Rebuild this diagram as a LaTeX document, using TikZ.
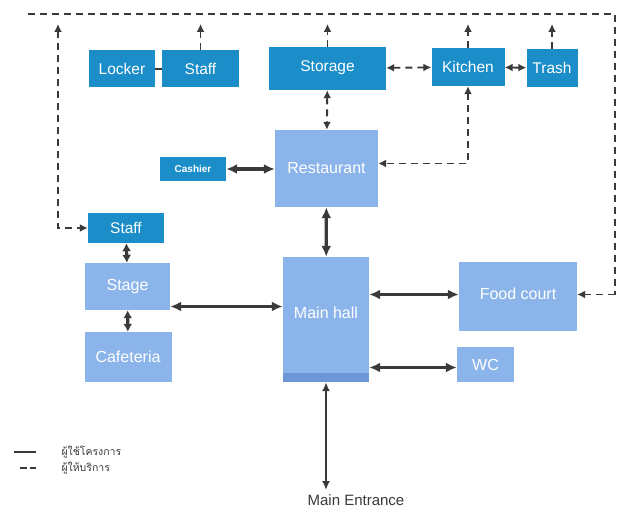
\documentclass[tikz,border=0pt]{standalone}
\usepackage{fontspec}
\setmainfont{Liberation Sans}
\newfontfamily\thaifont[Script=Thai]{Loma}
\usetikzlibrary{arrows.meta,positioning,calc}
\definecolor{BoxD}  {RGB}{27, 141, 201}
\definecolor{BoxL}  {RGB}{139,180, 234}
\definecolor{BoxLD} {RGB}{108,152, 218}
\definecolor{LineG} {RGB}{58,  58,  58}

\begin{document}
\begin{tikzpicture}[x=1pt,y=-1pt,
    dbox/.style={fill=BoxD,text=white,inner sep=0pt,font=\fontsize{15.5}{16}\selectfont},
    lbox/.style={fill=BoxL,text=white,inner sep=0pt,font=\fontsize{16}{16}\selectfont},
    usr/.style={LineG,line width=3.2pt,{Latex[length=11pt,width=10pt]}-{Latex[length=11pt,width=10pt]}},
    usrs/.style={LineG,line width=3.2pt,{Latex[length=8pt,width=9pt]}-{Latex[length=8pt,width=9pt]}},
    pv/.style={LineG,line width=1.9pt,dash pattern=on 7pt off 5pt},
    pvb/.style={pv,{Latex[length=8pt,width=8pt]}-{Latex[length=8pt,width=8pt]}},
    pvs/.style={pv,-{Latex[length=8pt,width=8pt]}}]
  \useasboundingbox[fill=white] (0,0) rectangle (628,513);

  \node[dbox,minimum width=66pt,minimum height=37pt] (locker) at (122,69) {Locker};
  \node[dbox,minimum width=77pt,minimum height=37pt] (staffA) at (200.5,69) {Staff};
  \node[dbox,minimum width=117pt,minimum height=43pt,text depth=4pt] (storage) at (327.5,68.5) {Storage};
  \node[dbox,minimum width=73pt,minimum height=38pt] (kitchen) at (468,67) {Kitchen};
  \node[dbox,minimum width=51pt,minimum height=38pt] (trash) at (552,68) {Trash};
  \node[dbox,minimum width=66pt,minimum height=24pt,font=\fontsize{10}{10}\selectfont\bfseries] (cashier) at (193,169) {Cashier};
  \node[dbox,minimum width=76pt,minimum height=30pt] (staffB) at (126,228) {Staff};

  \node[lbox,minimum width=103pt,minimum height=77pt] (restaurant) at (326.5,168.5) {Restaurant};
  \node[lbox,minimum width=86pt,minimum height=125pt] (mainhall) at (326,319.5) {};
  \fill[BoxLD] (mainhall.south west) rectangle ([yshift=9pt]mainhall.south east);
  \node[text=white,font=\fontsize{16}{16}\selectfont] at (326,313) {Main hall};
  \node[lbox,minimum width=85pt,minimum height=47pt] (stage) at (127.5,286.5) {Stage};
  \node[lbox,minimum width=87pt,minimum height=50pt] (cafeteria) at (128,357) {Cafeteria};
  \node[lbox,minimum width=118pt,minimum height=69pt,text depth=6pt] (foodcourt) at (518,296.5) {Food court};
  \node[lbox,minimum width=57pt,minimum height=35pt] (wc) at (485.5,364.5) {WC};

  \node[text=LineG,font=\fontsize{15}{15}\selectfont] (entrance) at (356,500) {Main Entrance};
  \coordinate (entr) at (326,490);

  \coordinate (busL) at (28,14);
  \coordinate (busR) at (615,14);
  \coordinate (tipY) at (0,24);
  \coordinate (leftT) at (58,24);
  \coordinate (reK) at ([yshift=5pt]restaurant.east);
  \coordinate (stA) at ([yshift=-20pt]stage.east);
  \coordinate (fcA) at ([yshift=2pt]foodcourt.west);
  \coordinate (wcA) at ([yshift=-3pt]wc.west);

  \draw[pv] (busL) -- (busR) -- (busR |- fcA);
  \draw[pvs] (busR |- fcA) -- (foodcourt.east |- fcA);
  \draw[pvb] (leftT) |- (staffB.west);
  \foreach \n in {staffA,storage,kitchen,trash}
    \draw[pvs] (\n.north) -- (\n.north |- tipY);
  \draw[pv] (locker) -- (staffA);
  \draw[pvb] (storage) -- (kitchen);
  \draw[pvb] (kitchen) -- (trash);
  \draw[pvb] (storage) -- (restaurant);
  \draw[pvb] (kitchen.south) |- (reK);

  \draw[usr] (cashier) -- (cashier -| restaurant.west);
  \draw[usr] (restaurant) -- (mainhall);
  \draw[usrs] (staffB) -- (stage);
  \draw[usrs] (stage) -- (cafeteria);
  \draw[usr] (stA) -- (stA -| mainhall.west);
  \draw[usr] (mainhall.east |- fcA) -- (fcA);
  \draw[usr] (mainhall.east |- wcA) -- (wcA);
  \draw[LineG,line width=2pt,{Latex[length=9pt,width=8pt]}-{Latex[length=9pt,width=8pt]}] (mainhall.south) -- (entr);

  \draw[LineG,line width=2.4pt] (14,452) -- (36,452);
  \draw[LineG,line width=1.8pt,dash pattern=on 7pt off 3pt] (20,468) -- (36,468);
  \node[anchor=west,text=LineG,font=\thaifont\fontsize{10.5}{10.5}\selectfont] (legU) at (58,452) {ผู้ใช้โครงการ};
  \node[anchor=west,text=LineG,font=\thaifont\fontsize{10.5}{10.5}\selectfont] (legP) at (58,468) {ผู้ให้บริการ};
\end{tikzpicture}
\end{document}
